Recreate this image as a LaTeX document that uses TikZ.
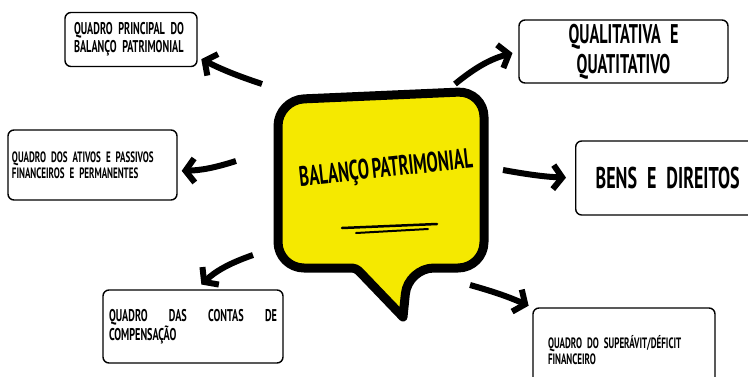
\documentclass[tikz,border=0pt]{standalone}
\usepackage{fontspec}
\setmainfont{PT Sans}[FakeStretch=0.6, WordSpace=0.7]
\usepackage{tikz}
\usetikzlibrary{arrows.meta}
\definecolor{bubble}{HTML}{F5E900}
\tikzstyle{box}=[draw, rounded corners=6pt, line width=1.4pt, inner sep=0pt, align=left]
\tikzstyle{ar}=[line width=6pt, -{Straight Barb[length=9pt, width=24pt]}]

\begin{document}
\begin{tikzpicture}[x=1pt, y=-1pt,
	sm/.style = {font=\bfseries\fontsize{17}{18}\selectfont},
	xs/.style = {font=\bfseries\fontsize{15}{16}\selectfont},
	bg/.style = {font=\bfseries\fontsize{27}{30}\selectfont}]
	
	\useasboundingbox (0,0) rectangle (748,376);
	\clip (0,0) rectangle (748,376);
	
	% speech bubble
	\draw[line width=9pt, fill=bubble, line join=round]
	[rounded corners=26pt] (278,180) -- (278,100) -- (484,91) -- (484,268) -- (408,268)
	[sharp corners] -- (403,317) [rounded corners=4pt] -- (356,268)
	[rounded corners=26pt] -- (278,268) -- (278,180);
	\node[bg, font=\bfseries\fontsize{28}{30}\selectfont, rotate=6] (BP) at (386,170) {BALANÇO PATRIMONIAL};
	\draw[line width=2.5pt, line cap=round] (342,228) -- (437,224);
	\draw[line width=2pt, line cap=round] (356,233) -- (428,229);
	
	% boxes
	\node[box, sm, minimum width=132pt, minimum height=54pt, text width=114pt] (QP) at (131,39.5)
	{QUADRO PRINCIPAL DO\\BALANÇO PATRIMONIAL};
	\node[box, xs, minimum width=169pt, minimum height=70pt, text width=161pt] (QA) at (92.5,165)
	{QUADRO DOS ATIVOS E PASSIVOS\\FINANCEIROS E PERMANENTES};
	\node[box, sm, align=justify, minimum width=180pt, minimum height=73pt, text width=168pt] (QC) at (193,326.5)
	{QUADRO DAS CONTAS DE\linebreak COMPENSAÇÃO};
	\node[box, bg, align=center, minimum width=209pt, minimum height=63pt, text width=190pt] (QL) at (623.5,51.5)
	{QUALITATIVA E\\QUATITATIVO};
	\node[box, font=\bfseries\fontsize{30}{34}\selectfont, anchor=west, minimum width=200pt, minimum height=74pt, text width=160pt] (BD) at (575,178)
	{BENS E DIREITOS};
	\node[box, xs, minimum width=182pt, minimum height=84pt, text width=152pt] (QS) at (624,350)
	{QUADRO DO SUPERÁVIT/DÉFICIT\\FINANCEIRO};
	
	% arrow tails
	\coordinate (t1) at (262,84);
	\coordinate (t2) at (236,161);
	\coordinate (t3) at (253,255);
	\coordinate (t4) at (455,84);
	\coordinate (t5) at (503,170);
	\coordinate (t6) at (470,285);
	
	\draw[ar, shorten >=4pt] (t1) to[bend left=4] (QP.-15);
	\draw[ar, shorten >=4pt] (t2) to[bend left=8] (QA.-4);
	\draw[ar, shorten >=7pt] (t3) to[bend right=12] (QC.85);
	\draw[ar, shorten >=6pt] (t4) to[bend left=12] (QL.west);
	\draw[ar, shorten >=9pt] (t5) to[bend right=4] (BD.west);
	\draw[ar, shorten >=4pt] (t6) to[bend left=4] (QS.north west);
	
\end{tikzpicture}
\end{document}
